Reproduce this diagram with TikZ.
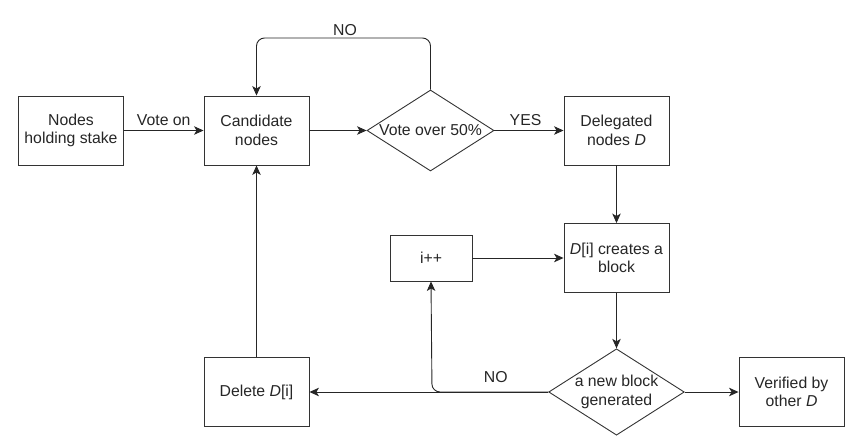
\documentclass[tikz,border=0pt]{standalone}
\usepackage{fontspec}
\setmainfont{Liberation Sans}
\usetikzlibrary{shapes.geometric,arrows.meta}
\begin{document}
\begin{tikzpicture}[x=1pt,y=-1pt,
  every node/.style={font=\fontsize{15.8}{18.5}\selectfont, text=black!85},
  box/.style={draw=black!80, line width=0.9pt, minimum width=105pt, minimum height=69pt, align=center, inner sep=0pt},
  smallbox/.style={draw=black!80, line width=0.9pt, minimum width=82pt, minimum height=46pt, align=center, inner sep=0pt},
  dia/.style={draw=black!80, line width=0.9pt, diamond, aspect=1.57, minimum width=127pt, minimum height=81pt, align=center, inner sep=0pt},
  conn/.style={draw=black!85, line width=0.9pt, -{Stealth[length=9.5pt,width=8.5pt,inset=2.5pt]}},
  lbl/.style={inner sep=1pt}]
\useasboundingbox (0,0) rectangle (860,444);
\node[box] (stake) at (71,130.5) {Nodes\\holding stake};
\node[box] (cand) at (256.5,130.5) {Candidate\\nodes};
\node[dia] (vote) at (430.5,130.5) {Vote over 50\%};
\node[box] (deleg) at (616.5,130.5) {Delegated\\nodes \emph{D}};
\node[box] (create) at (616.5,258) {\emph{D}[i] creates a\\block};
\node[smallbox] (inc) at (431,258) {i++};
\node[dia, minimum height=80pt] (gen) at (616.5,392) {a new block\\generated};
\node[box] (del) at (256.5,392) {Delete \emph{D}[i]};
\node[box] (ver) at (791.5,392) {Verified by\\other \emph{D}};
\coordinate (br) at (432,392);

\draw[conn] (stake) -- node[lbl, above=3pt] {Vote on} (cand);
\draw[conn] (cand) -- (vote);
\draw[conn] (vote) -- node[lbl, above=3pt, pos=0.45] {YES} (deleg);
\draw[conn, rounded corners=8pt] (vote.north) |- (345,38) node[lbl, above=1pt] {NO} -| (cand.north);
\draw[conn] (deleg) -- (create);
\draw[conn] (inc) -- (create);
\draw[conn] (create) -- (gen);
\draw[conn] (gen) -- node[lbl, above=8pt, pos=0.22] {NO} (del);
\draw[conn, rounded corners=8pt] (gen.west) -- (br) -- (inc.south);
\draw[conn] (gen) -- (ver);
\draw[conn] (del) -- (cand);
\end{tikzpicture}
\end{document}
